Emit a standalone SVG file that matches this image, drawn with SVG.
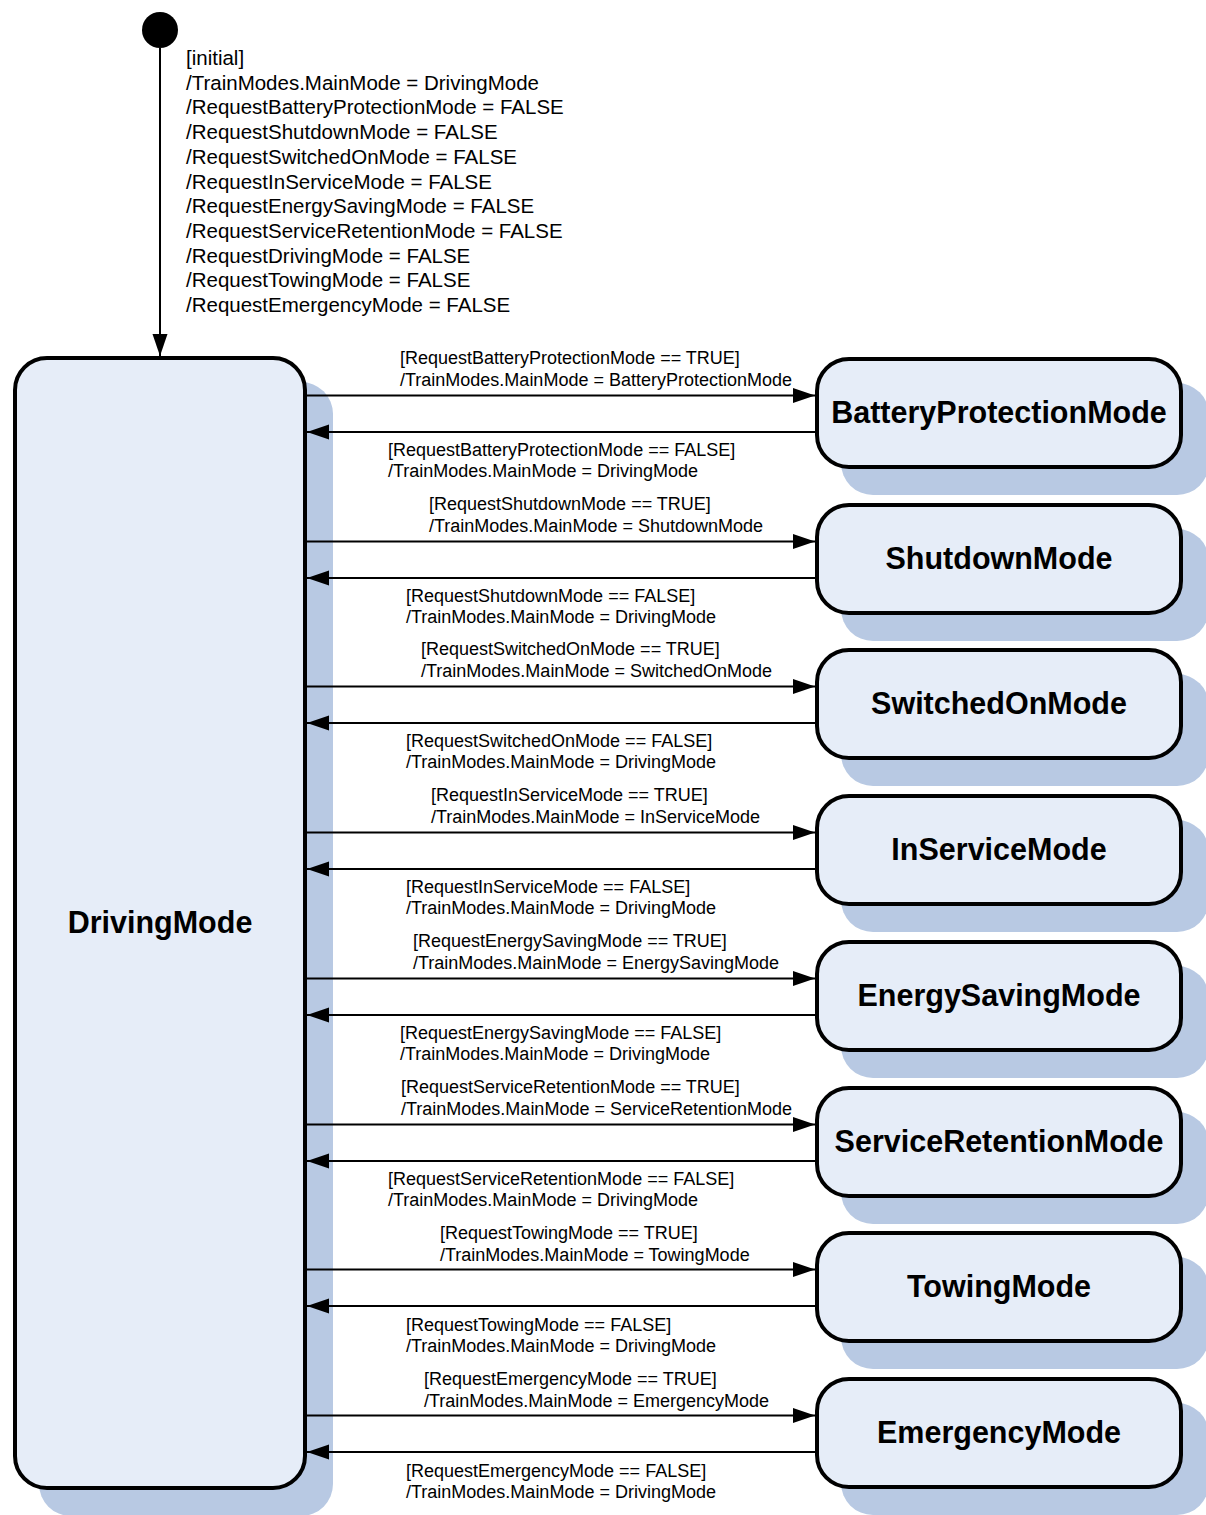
<svg xmlns="http://www.w3.org/2000/svg" width="1206" height="1515" viewBox="0 0 1206 1515">
<style>
.shadow{fill:#b8c9e3;stroke:none}
.state{fill:#e6edf8;stroke:#000;stroke-width:4}
.name{font-family:"Liberation Sans",Arial,sans-serif;font-weight:bold;font-size:30.5px;text-anchor:middle;fill:#000}
.lbl{font-family:"Liberation Sans",Arial,sans-serif;font-size:18px;fill:#000}
.init{font-family:"Liberation Sans",Arial,sans-serif;font-size:20.5px;fill:#000}
.edge{stroke:#000;stroke-width:2;fill:none;marker-end:url(#ah)}
</style>
<defs>
<marker id="ah" markerUnits="userSpaceOnUse" markerWidth="23" markerHeight="16" refX="22" refY="7.5" orient="auto">
<path d="M0,0 L22,7.5 L0,15 z" fill="#000"/>
</marker>
</defs>
<rect width="1206" height="1515" fill="#fff"/>

<g id="initial">
<circle cx="160" cy="30" r="18" fill="#000"/>
</g>

<g id="DrivingMode">
<rect class="shadow" x="39" y="382" width="294" height="1134" rx="32"/>
<rect class="state" x="15" y="358" width="290" height="1130" rx="32"/>
<text class="name" x="160" y="933">DrivingMode</text>
</g>

<g id="BatteryProtectionMode">
<rect class="shadow" x="841" y="383" width="368" height="112" rx="32"/>
<rect class="state" x="817" y="359" width="364" height="108" rx="32"/>
<text class="name" x="999" y="423">BatteryProtectionMode</text>
</g>
<g id="ShutdownMode">
<rect class="shadow" x="841" y="529" width="368" height="112" rx="32"/>
<rect class="state" x="817" y="505" width="364" height="108" rx="32"/>
<text class="name" x="999" y="569">ShutdownMode</text>
</g>
<g id="SwitchedOnMode">
<rect class="shadow" x="841" y="674" width="368" height="112" rx="32"/>
<rect class="state" x="817" y="650" width="364" height="108" rx="32"/>
<text class="name" x="999" y="714">SwitchedOnMode</text>
</g>
<g id="InServiceMode">
<rect class="shadow" x="841" y="820" width="368" height="112" rx="32"/>
<rect class="state" x="817" y="796" width="364" height="108" rx="32"/>
<text class="name" x="999" y="860">InServiceMode</text>
</g>
<g id="EnergySavingMode">
<rect class="shadow" x="841" y="966" width="368" height="112" rx="32"/>
<rect class="state" x="817" y="942" width="364" height="108" rx="32"/>
<text class="name" x="999" y="1006">EnergySavingMode</text>
</g>
<g id="ServiceRetentionMode">
<rect class="shadow" x="841" y="1112" width="368" height="112" rx="32"/>
<rect class="state" x="817" y="1088" width="364" height="108" rx="32"/>
<text class="name" x="999" y="1152">ServiceRetentionMode</text>
</g>
<g id="TowingMode">
<rect class="shadow" x="841" y="1257" width="368" height="112" rx="32"/>
<rect class="state" x="817" y="1233" width="364" height="108" rx="32"/>
<text class="name" x="999" y="1297">TowingMode</text>
</g>
<g id="EmergencyMode">
<rect class="shadow" x="841" y="1403" width="368" height="112" rx="32"/>
<rect class="state" x="817" y="1379" width="364" height="108" rx="32"/>
<text class="name" x="999" y="1443">EmergencyMode</text>
</g>

<g id="connectors">
<line class="edge" x1="160" y1="48" x2="160" y2="356"/>
<line class="edge" x1="307" y1="395.5" x2="815" y2="395.5"/>
<line class="edge" x1="815" y1="432" x2="307" y2="432"/>
<line class="edge" x1="307" y1="541.5" x2="815" y2="541.5"/>
<line class="edge" x1="815" y1="578" x2="307" y2="578"/>
<line class="edge" x1="307" y1="686.5" x2="815" y2="686.5"/>
<line class="edge" x1="815" y1="723" x2="307" y2="723"/>
<line class="edge" x1="307" y1="832.5" x2="815" y2="832.5"/>
<line class="edge" x1="815" y1="869" x2="307" y2="869"/>
<line class="edge" x1="307" y1="978.5" x2="815" y2="978.5"/>
<line class="edge" x1="815" y1="1015" x2="307" y2="1015"/>
<line class="edge" x1="307" y1="1124.5" x2="815" y2="1124.5"/>
<line class="edge" x1="815" y1="1161" x2="307" y2="1161"/>
<line class="edge" x1="307" y1="1269.5" x2="815" y2="1269.5"/>
<line class="edge" x1="815" y1="1306" x2="307" y2="1306"/>
<line class="edge" x1="307" y1="1415.5" x2="815" y2="1415.5"/>
<line class="edge" x1="815" y1="1452" x2="307" y2="1452"/>
</g>

<g id="labels">
<text class="init" x="186"><tspan x="186" y="65">[initial]</tspan><tspan x="186" y="89.7">/TrainModes.MainMode = DrivingMode</tspan><tspan x="186" y="114.4">/RequestBatteryProtectionMode = FALSE</tspan><tspan x="186" y="139.1">/RequestShutdownMode = FALSE</tspan><tspan x="186" y="163.8">/RequestSwitchedOnMode = FALSE</tspan><tspan x="186" y="188.5">/RequestInServiceMode = FALSE</tspan><tspan x="186" y="213.2">/RequestEnergySavingMode = FALSE</tspan><tspan x="186" y="237.9">/RequestServiceRetentionMode = FALSE</tspan><tspan x="186" y="262.6">/RequestDrivingMode = FALSE</tspan><tspan x="186" y="287.3">/RequestTowingMode = FALSE</tspan><tspan x="186" y="312">/RequestEmergencyMode = FALSE</tspan></text>

<text class="lbl"><tspan x="400" y="364">[RequestBatteryProtectionMode == TRUE]</tspan><tspan x="400" y="386">/TrainModes.MainMode = BatteryProtectionMode</tspan></text>
<text class="lbl"><tspan x="388" y="456">[RequestBatteryProtectionMode == FALSE]</tspan><tspan x="388" y="477">/TrainModes.MainMode = DrivingMode</tspan></text>

<text class="lbl"><tspan x="429" y="510">[RequestShutdownMode == TRUE]</tspan><tspan x="429" y="532">/TrainModes.MainMode = ShutdownMode</tspan></text>
<text class="lbl"><tspan x="406" y="602">[RequestShutdownMode == FALSE]</tspan><tspan x="406" y="623">/TrainModes.MainMode = DrivingMode</tspan></text>

<text class="lbl"><tspan x="421" y="655">[RequestSwitchedOnMode == TRUE]</tspan><tspan x="421" y="677">/TrainModes.MainMode = SwitchedOnMode</tspan></text>
<text class="lbl"><tspan x="406" y="747">[RequestSwitchedOnMode == FALSE]</tspan><tspan x="406" y="768">/TrainModes.MainMode = DrivingMode</tspan></text>

<text class="lbl"><tspan x="431" y="801">[RequestInServiceMode == TRUE]</tspan><tspan x="431" y="823">/TrainModes.MainMode = InServiceMode</tspan></text>
<text class="lbl"><tspan x="406" y="893">[RequestInServiceMode == FALSE]</tspan><tspan x="406" y="914">/TrainModes.MainMode = DrivingMode</tspan></text>

<text class="lbl"><tspan x="413" y="947">[RequestEnergySavingMode == TRUE]</tspan><tspan x="413" y="969">/TrainModes.MainMode = EnergySavingMode</tspan></text>
<text class="lbl"><tspan x="400" y="1039">[RequestEnergySavingMode == FALSE]</tspan><tspan x="400" y="1060">/TrainModes.MainMode = DrivingMode</tspan></text>

<text class="lbl"><tspan x="401" y="1093">[RequestServiceRetentionMode == TRUE]</tspan><tspan x="401" y="1115">/TrainModes.MainMode = ServiceRetentionMode</tspan></text>
<text class="lbl"><tspan x="388" y="1185">[RequestServiceRetentionMode == FALSE]</tspan><tspan x="388" y="1206">/TrainModes.MainMode = DrivingMode</tspan></text>

<text class="lbl"><tspan x="440" y="1239">[RequestTowingMode == TRUE]</tspan><tspan x="440" y="1261">/TrainModes.MainMode = TowingMode</tspan></text>
<text class="lbl"><tspan x="406" y="1331">[RequestTowingMode == FALSE]</tspan><tspan x="406" y="1352">/TrainModes.MainMode = DrivingMode</tspan></text>

<text class="lbl"><tspan x="424" y="1385">[RequestEmergencyMode == TRUE]</tspan><tspan x="424" y="1407">/TrainModes.MainMode = EmergencyMode</tspan></text>
<text class="lbl"><tspan x="406" y="1477">[RequestEmergencyMode == FALSE]</tspan><tspan x="406" y="1498">/TrainModes.MainMode = DrivingMode</tspan></text>
</g>
</svg>
